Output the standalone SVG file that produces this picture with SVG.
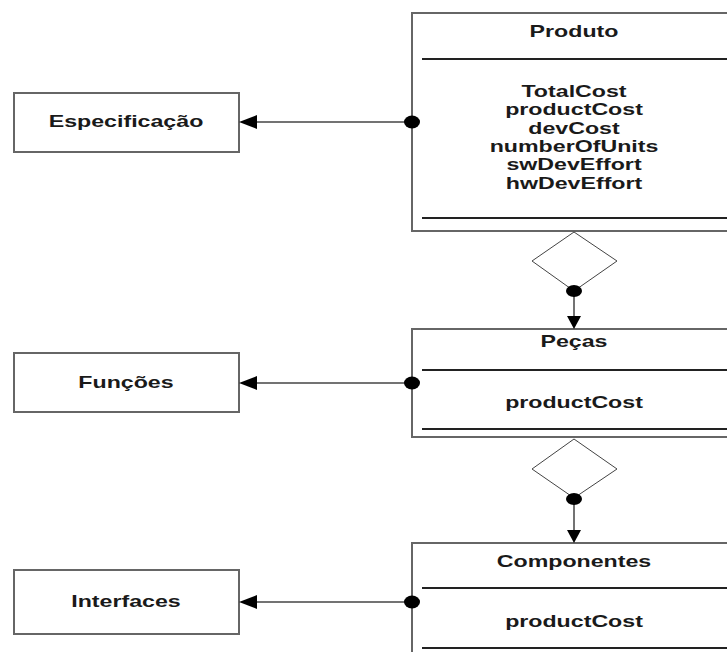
<svg xmlns="http://www.w3.org/2000/svg" width="727" height="652" viewBox="0 0 727 652">
<style>
.box{fill:#fff;stroke:#666;stroke-width:2}
.sep{stroke:#222;stroke-width:2}
.t{font-family:"Liberation Sans",Arial,sans-serif;font-weight:bold;font-size:16px;fill:#1a1a1a;text-anchor:middle}
.dia{fill:#fff;stroke:#444;stroke-width:1}
.ln{stroke:#444;stroke-width:1.5;fill:none}
.dot{fill:#000}
.ah{fill:#000}
</style>
<rect width="727" height="652" fill="#fff"/>
<g id="especificacao">
<rect class="box" x="14" y="93" width="225" height="59"/>
<text class="t" transform="matrix(1.45 0 0 1 126 127)">Especificação</text>
</g>
<g id="funcoes">
<rect class="box" x="14" y="353" width="225" height="59"/>
<text class="t" transform="matrix(1.45 0 0 1 126 388)">Funções</text>
</g>
<g id="interfaces">
<rect class="box" x="14" y="570" width="225" height="64"/>
<text class="t" transform="matrix(1.45 0 0 1 126 607)">Interfaces</text>
</g>
<g id="produto">
<rect class="box" x="412" y="13" width="330" height="218"/>
<text class="t" transform="matrix(1.45 0 0 1 574 37)">Produto</text>
<line class="sep" x1="422" y1="59" x2="727" y2="59"/>
<text class="t" transform="matrix(1.45 0 0 1 574 97)">TotalCost</text>
<text class="t" transform="matrix(1.45 0 0 1 574 115.3)">productCost</text>
<text class="t" transform="matrix(1.45 0 0 1 574 133.6)">devCost</text>
<text class="t" transform="matrix(1.45 0 0 1 574 151.9)">numberOfUnits</text>
<text class="t" transform="matrix(1.45 0 0 1 574 170.2)">swDevEffort</text>
<text class="t" transform="matrix(1.45 0 0 1 574 188.5)">hwDevEffort</text>
<line class="sep" x1="422" y1="218" x2="727" y2="218"/>
</g>
<g id="pecas">
<rect class="box" x="412" y="329" width="330" height="108"/>
<text class="t" transform="matrix(1.45 0 0 1 574 347)">Peças</text>
<line class="sep" x1="422" y1="370" x2="727" y2="370"/>
<text class="t" transform="matrix(1.45 0 0 1 574 408)">productCost</text>
<line class="sep" x1="422" y1="429" x2="727" y2="429"/>
</g>
<g id="componentes">
<rect class="box" x="412" y="543" width="330" height="130"/>
<text class="t" transform="matrix(1.45 0 0 1 574 567)">Componentes</text>
<line class="sep" x1="422" y1="588" x2="727" y2="588"/>
<text class="t" transform="matrix(1.45 0 0 1 574 627)">productCost</text>
<line class="sep" x1="422" y1="648" x2="727" y2="648"/>
</g>
<g id="connectors">
<line class="ln" x1="412" y1="122" x2="250" y2="122"/>
<polygon class="ah" points="239,122 257,115 257,129"/>
<ellipse class="dot" cx="412" cy="122" rx="8" ry="6.5"/>
<line class="ln" x1="412" y1="383" x2="250" y2="383"/>
<polygon class="ah" points="239,383 257,376 257,390"/>
<ellipse class="dot" cx="412" cy="383" rx="8" ry="6.5"/>
<line class="ln" x1="412" y1="602" x2="250" y2="602"/>
<polygon class="ah" points="239,602 257,595 257,609"/>
<ellipse class="dot" cx="412" cy="602" rx="8" ry="6.5"/>
<polygon class="dia" points="574,232 617,261 574,291 532,261"/>
<line class="ln" x1="574" y1="291" x2="574" y2="320"/>
<polygon class="ah" points="574,329 567,316 581,316"/>
<ellipse class="dot" cx="574" cy="291" rx="8" ry="6"/>
<polygon class="dia" points="574,439 617,469 574,498 532,469"/>
<line class="ln" x1="574" y1="498" x2="574" y2="534"/>
<polygon class="ah" points="574,543 567,530 581,530"/>
<ellipse class="dot" cx="574" cy="499" rx="8" ry="6"/>
</g>
</svg>
